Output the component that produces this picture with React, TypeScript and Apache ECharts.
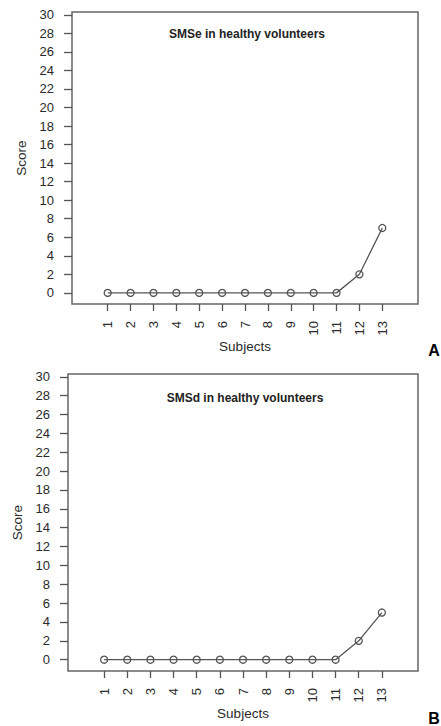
import React, { useEffect, useRef } from "react";
import * as echarts from "echarts";

const subjects = [1, 2, 3, 4, 5, 6, 7, 8, 9, 10, 11, 12, 13];
const smseScores = [0, 0, 0, 0, 0, 0, 0, 0, 0, 0, 0, 2, 7];
const smsdScores = [0, 0, 0, 0, 0, 0, 0, 0, 0, 0, 0, 2, 5];
const yTicks = [0, 2, 4, 6, 8, 10, 12, 14, 16, 18, 20, 22, 24, 26, 28, 30];
const titles = ["SMSe in healthy volunteers", "SMSd in healthy volunteers"];
const panelLetters = ["A", "B"];

const FONT = "'Liberation Sans', Arial, sans-serif";
const TXT = "#2a2a2a";
const LINE = "#555";

export default function App() {
  const ref = useRef<HTMLDivElement>(null);
  useEffect(() => {
    if (!ref.current) return;
    const chart = echarts.init(ref.current, null, { renderer: "svg" });
    const grids = [
      { left: 72, top: 12, width: 346, height: 292 },
      { left: 68, top: 374, width: 350, height: 297 },
    ];
    const xAxis = grids.map((_, i) => ({
      type: "value",
      gridIndex: i,
      min: -0.56,
      max: 14.56,
      name: "Subjects",
      nameLocation: "middle",
      nameGap: 34,
      nameTextStyle: { fontFamily: FONT, fontSize: 13.5, color: TXT },
      axisLine: { show: false, onZero: false },
      splitLine: { show: false },
      axisTick: { show: true, length: 7, customValues: subjects, lineStyle: { color: LINE, width: 1.3 } },
      axisLabel: {
        customValues: subjects,
        rotate: 90,
        margin: 17,
        fontFamily: FONT,
        fontSize: 13,
        color: TXT,
      },
    }));
    const yAxis = grids.map((_, i) => ({
      type: "value",
      gridIndex: i,
      min: -1.2,
      max: 30.3,
      name: "Score",
      nameLocation: "middle",
      nameGap: 39,
      nameTextStyle: { fontFamily: FONT, fontSize: 13.5, color: TXT },
      axisLine: { show: false, onZero: false },
      splitLine: { show: false },
      axisTick: { show: true, length: 8, customValues: yTicks, lineStyle: { color: LINE, width: 1.3 } },
      axisLabel: {
        customValues: yTicks,
        margin: 18,
        fontFamily: FONT,
        fontSize: 13,
        color: TXT,
      },
    }));
    const seriesData = [smseScores, smsdScores];
    chart.setOption({
      animation: false,
      backgroundColor: "#fff",
      grid: grids.map((g) => ({
        ...g,
        show: true,
        borderColor: "#666",
        borderWidth: 1.5,
        backgroundColor: "transparent",
        containLabel: false,
      })),
      title: titles.map((t, i) => ({
        text: t,
        left: grids[i].left + grids[i].width / 2 - 3,
        textAlign: "center",
        top: i === 0 ? 23 : 387,
        textStyle: { fontFamily: FONT, fontSize: 12, fontWeight: "bold", color: "#222" },
      })),
      xAxis,
      yAxis,
      series: seriesData.map((vals, i) => ({
        type: "line",
        xAxisIndex: i,
        yAxisIndex: i,
        data: subjects.map((s, j) => [s, vals[j]]),
        symbol: "circle",
        symbolSize: 7,
        lineStyle: { color: LINE, width: 1.3 },
        itemStyle: { color: "rgba(255,255,255,0)", borderColor: LINE, borderWidth: 1.3 },
      })),
      graphic: panelLetters.map((l, i) => ({
        type: "text",
        x: 434,
        y: i === 0 ? 350 : 718,
        style: {
          text: l,
          fontFamily: FONT,
          fontSize: 16,
          fontWeight: "bold",
          fill: "#000",
          textAlign: "center",
          textVerticalAlign: "middle",
        },
      })),
    });
    return () => chart.dispose();
  }, []);
  return <div ref={ref} style={{ position: "fixed", left: 0, top: 0, width: 441, height: 726 }} />;
}
